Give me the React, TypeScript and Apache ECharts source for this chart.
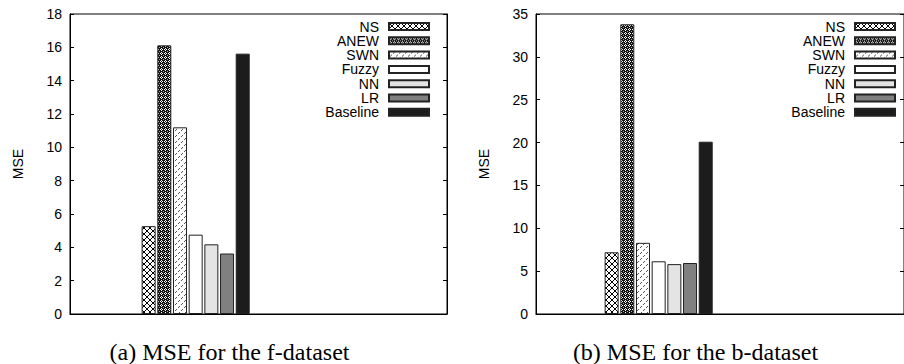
import React, { useEffect, useRef } from 'react';
import * as echarts from 'echarts';

const seriesNames = ['NS', 'ANEW', 'SWN', 'Fuzzy', 'NN', 'LR', 'Baseline'];
const fValues = [5.27, 16.12, 11.2, 4.76, 4.18, 3.63, 15.62];
const bValues = [7.2, 33.8, 8.3, 6.15, 5.82, 5.95, 20.1];
const categories = ['left', 'group', 'mid', 'right'];
const groupIndex = 1;
const fAxis = { min: 0, max: 18, interval: 2 };
const bAxis = { min: 0, max: 35, interval: 5 };
const yTitle = 'MSE';
const captions = ['(a) MSE for the f-dataset', '(b) MSE for the b-dataset'];

function tile(size: number, paint: (ctx: CanvasRenderingContext2D) => void) {
  const c = document.createElement('canvas');
  c.width = size;
  c.height = size;
  const ctx = c.getContext('2d') as CanvasRenderingContext2D;
  paint(ctx);
  return { image: c.toDataURL(), repeat: 'repeat', imageWidth: size, imageHeight: size } as any;
}

function px(ctx: CanvasRenderingContext2D, pts: number[][], color: string) {
  ctx.fillStyle = color;
  pts.forEach(([x, y]) => ctx.fillRect(x, y, 1, 1));
}

function makeFills() {
  const ns = tile(6, (ctx) => {
    ctx.fillStyle = '#fff';
    ctx.fillRect(0, 0, 6, 6);
    const pts: number[][] = [];
    for (let i = 0; i < 6; i++) {
      pts.push([i, i]);
      pts.push([i, 5 - i]);
    }
    px(ctx, pts, '#000');
  });
  const anew = tile(4, (ctx) => {
    ctx.fillStyle = '#111';
    ctx.fillRect(0, 0, 4, 4);
    px(ctx, [[1, 0], [0, 1], [2, 1], [1, 2]], '#fff');
    px(ctx, [[3, 3]], '#aaa');
  });
  const swn = tile(6, (ctx) => {
    ctx.fillStyle = '#fff';
    ctx.fillRect(0, 0, 6, 6);
    px(ctx, [[5, 0], [4, 1], [2, 3], [1, 4]], '#555');
  });
  return [ns, anew, swn, '#ffffff', '#e4e4e4', '#808080', '#1c1c1c'];
}

const FONT = 'Liberation Sans';

export default function App() {
  const ref = useRef<HTMLDivElement>(null);
  useEffect(() => {
    if (!ref.current) return;
    const chart = echarts.init(ref.current, undefined, { renderer: 'svg' });
    const fills = makeFills();

    const gridDefs = [
      { left: 70, top: 14, width: 377, height: 300 },
      { left: 536, top: 14, width: 377, height: 300 },
    ];
    const valueSets = [fValues, bValues];
    const axisDefs = [fAxis, bAxis];

    const yAxes: any[] = [];
    axisDefs.forEach((a, g) => {
      yAxes.push({
        gridIndex: g,
        type: 'value',
        min: a.min,
        max: a.max,
        interval: a.interval,
        name: yTitle,
        nameLocation: 'middle',
        nameGap: 45,
        nameRotate: 90,
        nameTextStyle: { color: '#000', fontSize: 14, fontFamily: FONT },
        axisLine: { show: true, lineStyle: { color: '#000', width: 1 } },
        axisTick: { show: true, inside: true, length: 4, lineStyle: { color: '#000' } },
        axisLabel: { color: '#000', fontSize: 14, fontFamily: FONT, margin: 8 },
        splitLine: { show: false },
      });
      yAxes.push({
        gridIndex: g,
        type: 'value',
        position: 'right',
        min: a.min,
        max: a.max,
        interval: a.interval,
        axisLine: { show: true, lineStyle: { color: '#000', width: 1 } },
        axisTick: { show: true, inside: true, length: 4, lineStyle: { color: '#000' } },
        axisLabel: { show: false },
        splitLine: { show: false },
      });
    });

    const series: any[] = [];
    valueSets.forEach((vals, g) => {
      seriesNames.forEach((name, k) => {
        series.push({
          type: 'bar',
          name,
          xAxisIndex: g,
          yAxisIndex: g * 2,
          barWidth: 14,
          barGap: '12%',
          itemStyle: { color: fills[k], borderColor: '#222', borderWidth: 1 },
          data: categories.map((_, i) => (i === groupIndex ? vals[k] : '-')),
        });
      });
    });

    const legendBase = {
      orient: 'vertical',
      align: 'right',
      icon: 'rect',
      itemWidth: 40,
      itemHeight: 7,
      itemGap: 0.3,
      padding: 0,
      selectedMode: false,
      data: seriesNames,
      textStyle: { color: '#000', fontSize: 14, fontFamily: FONT, padding: [0, 5, 0, 0] },
    };

    chart.setOption({
      animation: false,
      backgroundColor: '#fff',
      grid: gridDefs.map((d) => ({ ...d, show: true, borderColor: '#000', borderWidth: 1, backgroundColor: 'transparent' })),
      xAxis: gridDefs.map((_, g) => ({
        gridIndex: g,
        type: 'category',
        data: categories,
        boundaryGap: false,
        axisLine: { show: true, lineStyle: { color: '#000', width: 1.2 } },
        axisTick: { show: false },
        axisLabel: { show: false },
        splitLine: { show: false },
      })),
      yAxis: yAxes,
      legend: [
        { ...legendBase, right: 904 - 430, top: 19.5 },
        { ...legendBase, right: 8, top: 19.5 },
      ],
      graphic: captions.map((text, g) => ({
        type: 'text',
        x: g === 0 ? 229.5 : 695.5,
        y: 352,
        style: {
          text,
          fill: '#000',
          font: '24px "Liberation Serif"',
          textAlign: 'center',
          textVerticalAlign: 'middle',
        },
      })),
      series,
    });
    return () => chart.dispose();
  }, []);
  return <div ref={ref} style={{ position: 'absolute', left: 0, top: 0, width: 904, height: 364 }} />;
}
